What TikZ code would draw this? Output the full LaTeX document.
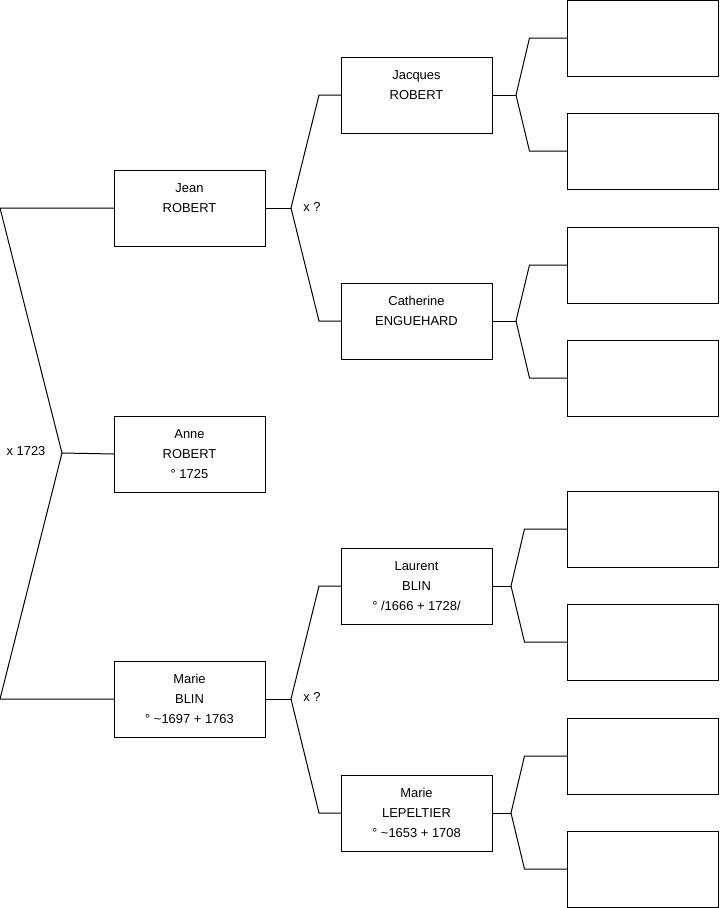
\documentclass[tikz,border=0pt]{standalone}
\usepackage{fontspec}
\setmainfont{Liberation Sans}
\begin{document}
\begin{tikzpicture}[x=0.75pt,y=-0.75pt,line width=0.75pt,
    person/.style={draw, rectangle, inner sep=0pt, outer sep=0pt,
        minimum width=113.25pt, minimum height=57pt, align=center,
        font=\fontsize{9.7}{15}\selectfont},
    emptybox/.style={person}]

\useasboundingbox (0,0) rectangle (719,908);

% -----------------------------
% Generation 1 and 2
% -----------------------------
\node[person] (jean)   at (189.5,208) {Jean\\ROBERT\\\mbox{}};
\node[person] (anne)   at (189.5,454) {Anne\\ROBERT\\° 1725};
\node[person] (marieb) at (189.5,699) {Marie\\BLIN\\° \textasciitilde1697 + 1763};

% -----------------------------
% Generation 3
% -----------------------------
\node[person] (jacques)   at (416.5,95)  {Jacques\\ROBERT\\\mbox{}};
\node[person] (catherine) at (416.5,321) {Catherine\\ENGUEHARD\\\mbox{}};
\node[person] (laurent)   at (416.5,586) {Laurent\\BLIN\\° /1666 + 1728/};
\node[person] (mariel)    at (416.5,813) {Marie\\LEPELTIER\\° \textasciitilde1653 + 1708};

% Generation 4 (empty boxes)
\foreach \y [count=\i] in {38,151,265,378,529,642,756,869}
    \node[emptybox] (e\i) at (643,\y) {};

% -----------------------------
% Couple of the parents
% -----------------------------
\coordinate (top) at (0,208);
\coordinate (cpl) at (62,453);
\coordinate (bot) at (0,699);
\draw (jean.west) -- (top) -- (cpl) -- (bot) -- (marieb.west);
\draw (cpl) -- (anne.west);
\node at (26,451) {\fontsize{9.7}{15}\selectfont x 1723};

% -----------------------------
% Grandparents
% -----------------------------
\coordinate (jx) at (291,208);
\draw (jean.east) -- (jx);
\draw (jacques.west) -- ++(-22,0) -- (jx) -- ++(28,113) -- (catherine.west);
\node at (312,207) {\fontsize{9.7}{15}\selectfont x ?};

\coordinate (mx) at (291,699);
\draw (marieb.east) -- (mx);
\draw (laurent.west) -- ++(-22,0) -- (mx) -- ++(28,114) -- (mariel.west);
\node at (312,697) {\fontsize{9.7}{15}\selectfont x ?};

% great-grandparents
\foreach \g/\a/\b/\d/\h in {jacques/e1/e2/24/38, catherine/e3/e4/24/38,
                           laurent/e5/e6/19/43, mariel/e7/e8/19/43} {
    \coordinate (\g x) at ([xshift=\d*0.75pt]\g.east);
    \draw (\g.east) -- (\g x);
    \draw (\a.west) -- ++(-\h,0) -- (\g x);
    \draw (\b.west) -- ++(-\h,0) -- (\g x);
}

\end{tikzpicture}
\end{document}
